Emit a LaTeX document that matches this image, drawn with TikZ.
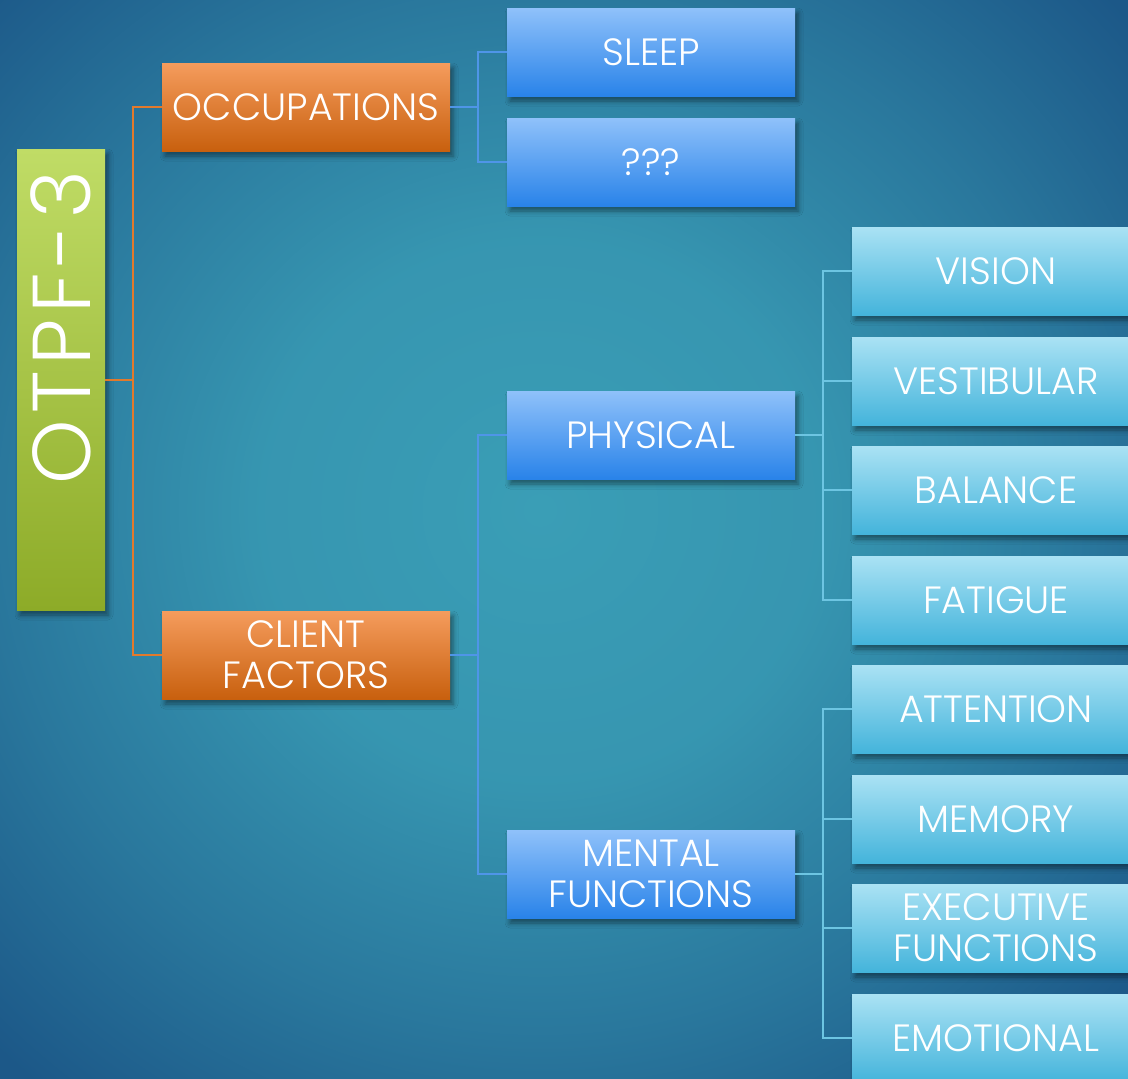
\documentclass[tikz,border=0pt]{standalone}
\usepackage{fontspec}
\setmainfont{Poppins}[UprightFont={* Light}]
\usetikzlibrary{positioning, shadows.blur, calc}
\definecolor{bgin}{HTML}{3A9EB6}
\definecolor{bgout}{HTML}{1C5888}
\definecolor{greentop}{HTML}{C0DC66}
\definecolor{greenbot}{HTML}{8DAB28}
\definecolor{orangetop}{HTML}{F59C5D}
\definecolor{orangebot}{HTML}{C8600E}
\definecolor{bluetop}{HTML}{8FC1FA}
\definecolor{bluebot}{HTML}{2983E9}
\definecolor{skytop}{HTML}{AAE2F4}
\definecolor{skybot}{HTML}{44B4DB}
\definecolor{orangeline}{HTML}{E27A2C}
\definecolor{blueline}{HTML}{4F95E8}
\definecolor{skyline}{HTML}{6DC5E2}
\pgfdeclareradialshading{bgglow}{\pgfpoint{0bp}{0bp}}{color(0bp)=(bgin); color(12bp)=(bgin!88!bgout); color(23bp)=(bgin!45!bgout); color(33bp)=(bgout); color(50bp)=(bgout)}
\tikzset{
  boxbase/.style={minimum width=288pt, minimum height=88pt, inner sep=0pt, align=center, text=white,
    font=\fontsize{38}{41}\selectfont,
    blur shadow={shadow xshift=3pt, shadow yshift=-5pt, shadow blur radius=5pt, shadow opacity=45}},
  rootbox/.style={boxbase, minimum width=88pt, minimum height=461pt, top color=greentop, bottom color=greenbot},
  occbox/.style={boxbase, top color=orangetop, bottom color=orangebot},
  midbox/.style={boxbase, top color=bluetop, bottom color=bluebot},
  leafbox/.style={boxbase, top color=skytop, bottom color=skybot},
  rootlink/.style={draw=orangeline, line width=2pt},
  midlink/.style={draw=blueline, line width=2pt},
  leaflink/.style={draw=skyline, line width=2pt}
}

\begin{document}
\begin{tikzpicture}[x=1pt, y=-1pt]
  % Background
  \useasboundingbox (0,0) rectangle (1128,1079);
  \clip (0,0) rectangle (1128,1079);
  \shade[shading=bgglow] (-50,-60) rectangle (1130,1080);

  % Root and first level
  \node[rootbox] (otpf) at (61,379.5) {\rotatebox{90}{\hspace*{104pt}\fontsize{82}{82}\selectfont\addfontfeatures{LetterSpace=7}OTPF-3}};
  \node[occbox] (occ) at (306,107) {OCCUPATIONS};
  \node[occbox] (client) at (306,655) {CLIENT\\FACTORS};

  % Second level
  \node[midbox] (sleep) at (651,52) {SLEEP};
  \node[midbox] (unknown) at (651,162) {???};
  \node[midbox] (physical) at (651,435) {PHYSICAL};
  \node[midbox] (mental) at (651,874) {MENTAL\\FUNCTIONS};

  % Third level, physical
  \node[leafbox] (vision) at (996,271) {VISION};
  \node[leafbox] (vestib) at (996,381) {VESTIBULAR};
  \node[leafbox] (balance) at (996,490) {BALANCE};
  \node[leafbox] (fatigue) at (996,600) {FATIGUE};

  % Third level, mental
  \node[leafbox] (attention) at (996,709) {ATTENTION};
  \node[leafbox] (memory) at (996,819) {MEMORY};
  \node[leafbox] (exec) at (996,928) {EXECUTIVE\\FUNCTIONS};
  \node[leafbox] (emotion) at (996,1038) {EMOTIONAL};

  % Junction points
  \coordinate (jroot) at (133,379.5);
  \coordinate (jocc) at (478,107);
  \coordinate (jclient) at (478,655);
  \coordinate (jphys) at (823,435);
  \coordinate (jment) at (823,874);

  % Root links
  \draw[rootlink] (otpf.east) -- (jroot) |- (occ.west);
  \draw[rootlink] (jroot) |- (client.west);

  % Occupation links
  \draw[midlink] (occ.east) -- (jocc) |- (sleep.west);
  \draw[midlink] (jocc) |- (unknown.west);

  % Client factor links
  \draw[midlink] (client.east) -- (jclient) |- (physical.west);
  \draw[midlink] (jclient) |- (mental.west);

  % Physical links
  \draw[leaflink] (physical.east) -- (jphys);
  \foreach \leaf in {vision, vestib, balance, fatigue}
    \draw[leaflink] (jphys) |- (\leaf.west);

  % Mental links
  \draw[leaflink] (mental.east) -- (jment);
  \foreach \leaf in {attention, memory, exec, emotion}
    \draw[leaflink] (jment) |- (\leaf.west);
\end{tikzpicture}
\end{document}
